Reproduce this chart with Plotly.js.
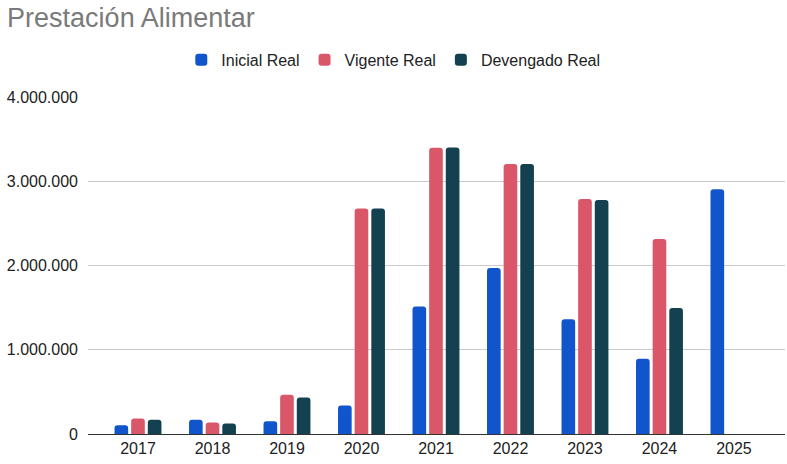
<!DOCTYPE html>
<html>
<head>
<meta charset="utf-8">
<script src="https://cdn.plot.ly/plotly-3.0.1.min.js"></script>
<style>html,body{margin:0;padding:0;background:#fff;}#chart{width:787px;height:464px;}</style>
</head>
<body>
<div id="chart"></div>
<script>
const years = ["2017","2018","2019","2020","2021","2022","2023","2024","2025"];
const inicialReal = [104000, 168000, 152000, 338000, 1512000, 1971000, 1362000, 892000, 2904000];
const vigenteReal = [184000, 136000, 465000, 2678000, 3398000, 3205000, 2790000, 2315000, null];
const devengadoReal = [168000, 125000, 433000, 2678000, 3400000, 3205000, 2778000, 1497000, null];

const font = "'Liberation Sans', Arial, sans-serif";
const mk = (name, y, color) => ({
  type: "bar", name: name, x: years, y: y,
  marker: {color: color, cornerradius: 3, line: {width: 0}},
  hoverinfo: "x+y+name"
});

const data = [
  mk("Inicial Real", inicialReal, "#1155cc"),
  mk("Vigente Real", vigenteReal, "#da5669"),
  mk("Devengado Real", devengadoReal, "#134150")
];

const layout = {
  width: 787, height: 464,
  margin: {l: 88, r: 2, t: 97, b: 30, pad: 0},
  paper_bgcolor: "#fff", plot_bgcolor: "#fff",
  separators: ",.",
  font: {family: font, size: 16, color: "#222"},
  title: {text: "Prestación Alimentar", font: {family: font, size: 27, color: "#7a7a7a"},
          xref: "container", yref: "container", x: 0.009, xanchor: "left", y: 0.962, yanchor: "middle"},
  showlegend: true,
  legend: {orientation: "h", x: 0.438, xanchor: "center", y: 1.11, yanchor: "middle",
           font: {family: font, size: 16, color: "#222"}, traceorder: "normal", itemwidth: 30},
  barmode: "group", bargap: 0.33, bargroupgap: 0.18,
  xaxis: {type: "category", range: [-0.671, 8.685], showgrid: false, showline: true, linecolor: "#333", linewidth: 1,
          ticks: "", tickfont: {family: font, size: 16, color: "#222"}, fixedrange: true},
  yaxis: {range: [0, 4000000], tickvals: [0, 1000000, 2000000, 3000000, 4000000], tickformat: ",d",
          showgrid: true, gridcolor: "#cccccc", gridwidth: 1, zeroline: true, zerolinecolor: "#333", zerolinewidth: 1,
          ticks: "", ticklabelstandoff: 9, tickfont: {family: font, size: 16, color: "#222"}, fixedrange: true}
};

Plotly.newPlot("chart", data, layout, {displayModeBar: false, staticPlot: true});
</script>
</body>
</html>
